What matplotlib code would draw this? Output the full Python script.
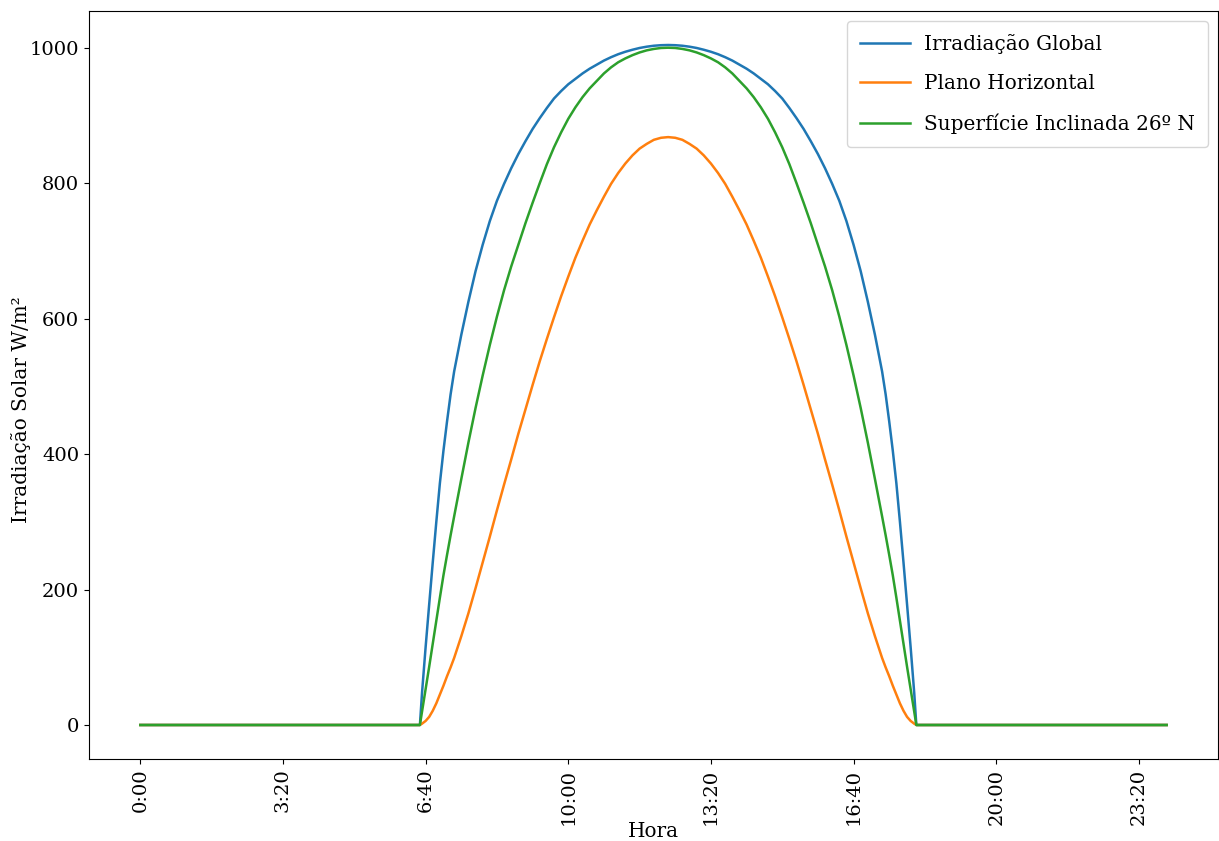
import matplotlib
matplotlib.use("Agg")
import matplotlib.pyplot as plt
from matplotlib.ticker import MultipleLocator, FuncFormatter

plt.rcParams['font.family'] = 'DejaVu Serif'
plt.rcParams['font.size'] = 14

# minutos do dia
minutos = [0,
           392, 395, 400, 405, 410, 415, 420, 425, 430, 435,
           440, 450, 460, 470, 480, 490, 500, 510, 520, 530,
           540, 550, 560, 570, 580, 590, 600, 610, 620, 630,
           640, 650, 660, 670, 680, 690, 700, 710, 720, 730,
           740,
           750, 760, 770, 780, 790, 800, 810, 820, 830, 840,
           850, 860, 870, 880, 890, 900, 910, 920, 930, 940,
           950, 960, 970, 980, 990, 1000, 1010, 1020, 1030, 1040,
           1045, 1050, 1055, 1060, 1065, 1070, 1075, 1080, 1085, 1088,
           1439]

# irradiacao global (W/m2)
irr_global = [0,
              0, 48, 115, 178, 240, 300, 357, 405, 448, 488,
              522, 576, 625, 670, 709, 744, 774, 799, 822, 843,
              862, 880, 896, 911, 925, 936, 946, 954, 962, 969,
              975, 981, 986, 990.4, 994, 997, 999.6, 1001.5, 1002.9, 1003.7,
              1004,
              1003.7, 1002.9, 1001.5, 999.6, 997, 994, 990.4, 986, 981, 975,
              969, 962, 954, 946, 936, 925, 911, 896, 880, 862,
              843, 822, 799, 774, 744, 709, 670, 625, 576, 522,
              488, 448, 405, 357, 300, 240, 178, 115, 48, 0,
              0]

# plano horizontal
horizontal = [0,
              0, 2, 6, 12, 21, 32, 45, 58, 72, 85,
              99, 131, 165, 202, 240, 278, 317, 355, 392, 430,
              466, 502, 537, 570, 602, 633, 662, 690, 715, 739,
              760, 780, 799, 815, 829, 841, 851, 858, 864, 867,
              868,
              867, 864, 858, 851, 841, 829, 815, 799, 780, 760,
              739, 715, 690, 662, 633, 602, 570, 537, 502, 466,
              430, 392, 355, 317, 278, 240, 202, 165, 131, 99,
              85, 72, 58, 45, 32, 21, 12, 6, 2, 0,
              0]

# superficie inclinada 26 graus N
inclinada = [0,
             0, 20, 53, 86, 120, 154, 188, 221, 251, 280,
             308, 363, 417, 468, 516, 561, 603, 642, 677, 709,
             741, 771, 800, 828, 853, 875, 895, 912, 927, 940,
             951, 962, 971, 978.5, 984.2, 989, 993, 996.1, 998.2, 999.6,
             1000,
             999.6, 998.2, 996.1, 993, 989, 984.2, 978.5, 971, 962, 951,
             940, 927, 912, 895, 875, 853, 828, 800, 771, 741,
             709, 677, 642, 603, 561, 516, 468, 417, 363, 308,
             280, 251, 221, 188, 154, 120, 86, 53, 20, 0,
             0]

fig = plt.figure(figsize=(12.19, 8.41), dpi=100)
ax = fig.add_axes([89 / 1219, 82 / 841, 1129 / 1219, 748 / 841])

ax.plot(minutos, irr_global, lw=1.8, label='Irradiação Global')
ax.plot(minutos, horizontal, lw=1.8, label='Plano Horizontal')
ax.plot(minutos, inclinada, lw=1.8, label='Superfície Inclinada 26º N')

# eixo x em horas
ax.xaxis.set_major_locator(MultipleLocator(200))
ax.xaxis.set_major_formatter(FuncFormatter(lambda v, p: '%d:%02d' % (int(v) // 60, int(v) % 60)))
plt.setp(ax.get_xticklabels(), rotation=90)

ax.set_xlabel('Hora', fontsize=14.4, labelpad=-2.2)
ax.set_ylabel('Irradiação Solar W/m²', fontsize=14.4)
ax.yaxis.set_label_coords(-0.051, 0.4666)

ax.legend(loc='upper right', fontsize=14.4, handlelength=2.5, handletextpad=0.7,
          labelspacing=1.0, borderpad=0.65)

fig.savefig('out.png', dpi=100)
